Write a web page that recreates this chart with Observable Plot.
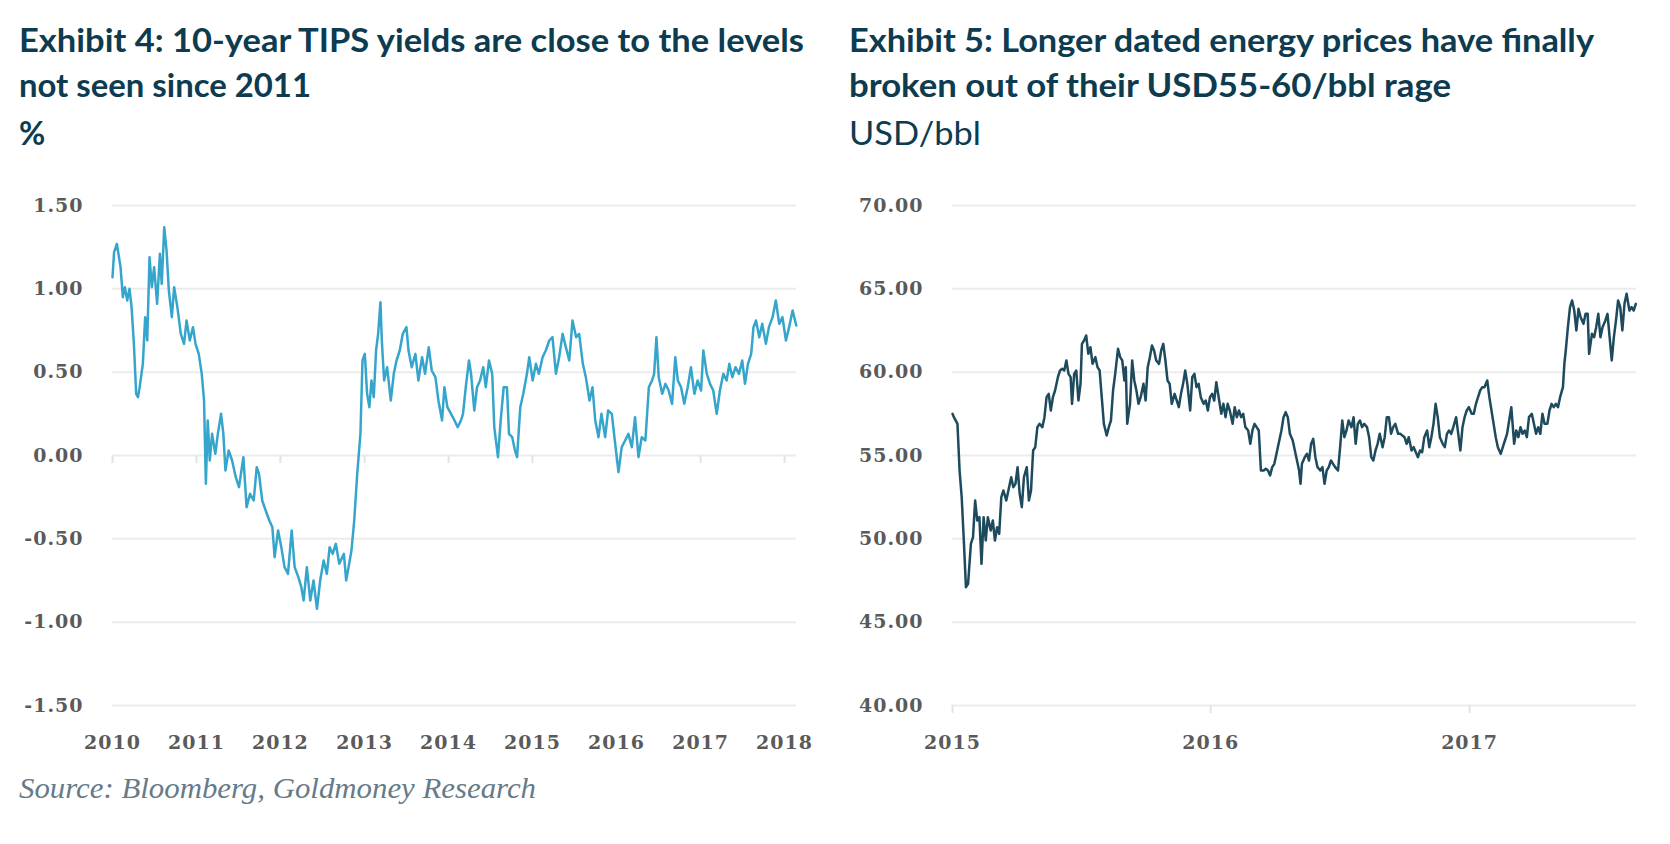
<!DOCTYPE html>
<html>
<head>
<meta charset="utf-8">
<script src="https://cdn.jsdelivr.net/npm/d3@7"></script>
<script src="https://cdn.jsdelivr.net/npm/@observablehq/plot@0.6"></script>
<style>
  html, body { margin: 0; padding: 0; background: #fff; }
  body { width: 1670px; height: 844px; position: relative; overflow: hidden; }
  .t { position: absolute; white-space: nowrap; font-family: Lato, "Open Sans", sans-serif; color: #0d3b4f;
       font-size: 32px; line-height: 32px; transform-origin: 0 0; }
  .b { font-weight: 700; }
  .r { font-weight: 400; }
  .src { position: absolute; white-space: nowrap; font-family: "Liberation Serif", "DejaVu Serif", serif; font-style: italic;
         font-size: 30px; line-height: 30px; color: #667b88; transform-origin: 0 0; }
  .chart { position: absolute; top: 180px; }
  .chart svg text { font-weight: 700; }
</style>
</head>
<body>
<div class="t b" id="l1" style="left:19px; top:24px;">Exhibit 4: 10-year TIPS yields are close to the levels</div>
<div class="t b" id="l2" style="left:19px; top:69px;">not seen since 2011</div>
<div class="t b" id="l3" style="left:19px; top:117px;">%</div>
<div class="t b" id="r1" style="left:849px; top:24px;">Exhibit 5: Longer dated energy prices have finally</div>
<div class="t b" id="r2" style="left:849px; top:69px;">broken out of their USD55-60/bbl rage</div>
<div class="t r" id="r3" style="left:849px; top:117px;">USD/bbl</div>
<div id="left" class="chart" style="left:0px;"></div>
<div id="right" class="chart" style="left:835px;"></div>
<div class="src" id="src" style="left:19px; top:773px;">Source: Bloomberg, Goldmoney Research</div>
<script>
// ---------- Exhibit 4: 10-year TIPS yield (%) ----------
const tipsDates = ["2010-01-01","2010-01-08","2010-01-20","2010-02-05","2010-02-15","2010-02-24","2010-03-06","2010-03-16","2010-03-25","2010-04-04","2010-04-14","2010-04-22","2010-04-29","2010-05-13","2010-05-23","2010-06-01","2010-06-11","2010-06-21","2010-07-01","2010-07-14","2010-07-26","2010-08-03","2010-08-14","2010-08-24","2010-09-03","2010-09-16","2010-09-26","2010-10-10","2010-10-25","2010-11-08","2010-11-19","2010-12-03","2010-12-17","2010-12-28",
"2011-01-11","2011-01-24","2011-02-03","2011-02-11","2011-02-19","2011-02-28","2011-03-10","2011-03-24","2011-04-04","2011-04-18","2011-04-28","2011-05-07","2011-05-21","2011-06-05","2011-06-21","2011-07-05","2011-07-24","2011-08-07","2011-08-22","2011-09-07","2011-09-20","2011-09-30","2011-10-14","2011-10-29","2011-11-14","2011-11-27","2011-12-07","2011-12-22",
"2012-01-05","2012-01-19","2012-02-03","2012-02-19","2012-03-03","2012-03-19","2012-04-01","2012-04-11","2012-04-25","2012-05-10","2012-05-24","2012-06-08","2012-06-22","2012-07-07","2012-07-21","2012-08-02","2012-08-15","2012-08-29","2012-09-13","2012-10-03","2012-10-13","2012-10-26","2012-11-05","2012-11-17","2012-11-30","2012-12-14","2012-12-23",
"2013-01-02","2013-01-12","2013-01-22","2013-01-31","2013-02-10","2013-02-20","2013-03-01","2013-03-11","2013-03-17","2013-03-27","2013-04-09","2013-04-25","2013-05-08","2013-05-20","2013-06-03","2013-06-16","2013-07-02","2013-07-11","2013-07-25","2013-08-10","2013-08-23","2013-09-08","2013-09-21","2013-10-07","2013-10-20","2013-11-05","2013-11-18","2013-12-04","2013-12-14","2013-12-27",
"2014-01-12","2014-01-27","2014-02-10","2014-02-24","2014-03-05","2014-03-17","2014-03-31","2014-04-09","2014-04-23","2014-05-05","2014-05-18","2014-06-01","2014-06-12","2014-06-26","2014-07-10","2014-07-19","2014-08-04","2014-08-17","2014-08-29","2014-09-12","2014-09-21","2014-10-05","2014-10-17","2014-10-26","2014-11-09","2014-11-22","2014-12-08","2014-12-18",
"2015-01-02","2015-01-16","2015-01-29","2015-02-14","2015-02-28","2015-03-15","2015-03-29","2015-04-13","2015-04-27","2015-05-12","2015-05-26","2015-06-10","2015-06-24","2015-07-10","2015-07-23","2015-08-08","2015-08-21","2015-09-06","2015-09-19","2015-10-01","2015-10-15","2015-10-28","2015-11-13","2015-11-26","2015-12-12","2015-12-25",
"2016-01-10","2016-01-24","2016-02-08","2016-02-22","2016-03-08","2016-03-22","2016-04-06","2016-04-20","2016-05-06","2016-05-21","2016-06-04","2016-06-13","2016-06-23","2016-07-03","2016-07-18","2016-08-01","2016-08-15","2016-08-30","2016-09-13","2016-09-24","2016-10-08","2016-10-22","2016-11-06","2016-11-20","2016-12-05","2016-12-19",
"2017-01-03","2017-01-13","2017-01-28","2017-02-11","2017-02-25","2017-03-12","2017-03-26","2017-04-10","2017-04-24","2017-05-06","2017-05-19","2017-06-02","2017-06-17","2017-07-01","2017-07-13","2017-07-26","2017-08-09","2017-08-19","2017-08-30","2017-09-13","2017-09-26","2017-10-12","2017-10-25","2017-11-10","2017-11-24","2017-12-09","2017-12-23",
"2018-01-07","2018-01-21","2018-02-05","2018-02-21"];
const tipsValues = [1.07,1.22,1.27,1.13,0.95,1.01,0.93,1.00,0.89,0.67,0.37,0.35,0.41,0.55,0.83,0.69,1.19,1.01,1.13,0.91,1.21,1.03,1.37,1.23,0.99,0.83,1.01,0.89,0.73,0.67,0.81,0.69,0.77,0.67,
0.61,0.49,0.33,-0.17,0.21,-0.03,0.13,0.01,0.13,0.25,0.13,-0.09,0.03,-0.03,-0.13,-0.19,-0.01,-0.31,-0.23,-0.27,-0.07,-0.11,-0.27,-0.33,-0.39,-0.43,-0.61,-0.45,
-0.55,-0.67,-0.71,-0.45,-0.67,-0.73,-0.79,-0.87,-0.67,-0.87,-0.75,-0.92,-0.75,-0.63,-0.71,-0.55,-0.59,-0.53,-0.65,-0.59,-0.75,-0.65,-0.57,-0.39,-0.11,0.13,0.57,
0.61,0.37,0.29,0.45,0.35,0.63,0.73,0.92,0.69,0.45,0.53,0.33,0.49,0.57,0.63,0.73,0.77,0.63,0.53,0.61,0.45,0.59,0.49,0.65,0.51,0.47,0.33,0.21,0.41,0.29,
0.25,0.21,0.17,0.21,0.25,0.41,0.57,0.49,0.27,0.41,0.45,0.53,0.41,0.57,0.49,0.17,-0.01,0.23,0.41,0.41,0.13,0.11,0.03,-0.01,0.29,0.37,0.49,0.59,
0.45,0.55,0.49,0.59,0.63,0.69,0.71,0.49,0.59,0.73,0.65,0.57,0.81,0.71,0.73,0.55,0.47,0.33,0.41,0.21,0.11,0.25,0.11,0.27,0.25,0.09,
-0.10,0.05,0.09,0.13,0.05,0.23,-0.01,0.11,0.09,0.41,0.45,0.49,0.71,0.47,0.37,0.43,0.39,0.31,0.59,0.45,0.41,0.31,0.41,0.53,0.37,0.45,
0.39,0.63,0.49,0.43,0.39,0.25,0.39,0.49,0.45,0.55,0.47,0.53,0.49,0.57,0.43,0.55,0.61,0.77,0.81,0.71,0.79,0.67,0.77,0.83,0.93,0.79,0.83,
0.69,0.77,0.87,0.78];
const tipsYTicks = [-1.5, -1, -0.5, 0, 0.5, 1, 1.5];
const tipsYearTicks = ["2010-01-01","2011-01-01","2012-01-01","2013-01-01","2014-01-01","2015-01-01","2016-01-01","2017-01-01","2018-01-01"];
const tipsXDomain = ["2010-01-01", "2018-02-22"];

// ---------- Exhibit 5: longer dated energy prices (USD/bbl) ----------
const energyDates = ["2015-01-01","2015-01-03","2015-01-08","2015-01-11","2015-01-14","2015-01-17","2015-01-20","2015-01-23","2015-01-27","2015-01-30","2015-02-02","2015-02-05","2015-02-08","2015-02-11","2015-02-14","2015-02-17","2015-02-20","2015-02-24","2015-02-27","2015-03-02","2015-03-05","2015-03-08","2015-03-11","2015-03-14","2015-03-18","2015-03-21","2015-03-25","2015-03-28","2015-03-31","2015-04-03","2015-04-06","2015-04-09","2015-04-12","2015-04-16","2015-04-19","2015-04-22","2015-04-25","2015-04-28","2015-05-01","2015-05-04","2015-05-08","2015-05-11","2015-05-14","2015-05-17","2015-05-20","2015-05-23","2015-05-26","2015-05-30","2015-06-02","2015-06-05","2015-06-08","2015-06-11","2015-06-14","2015-06-17","2015-06-19","2015-06-22","2015-06-25","2015-06-28","2015-07-01","2015-07-03","2015-07-06","2015-07-09","2015-07-12","2015-07-15","2015-07-18","2015-07-22","2015-07-25","2015-07-28","2015-07-31","2015-08-03","2015-08-07","2015-08-10","2015-08-13","2015-08-16","2015-08-19","2015-08-23","2015-08-26","2015-08-29","2015-09-01","2015-09-03","2015-09-05","2015-09-09","2015-09-12","2015-09-15","2015-09-18","2015-09-21","2015-09-24","2015-09-28","2015-10-01","2015-10-04","2015-10-07","2015-10-10","2015-10-13","2015-10-16","2015-10-20","2015-10-23","2015-10-26","2015-10-29","2015-11-01","2015-11-04","2015-11-07","2015-11-11","2015-11-14","2015-11-17","2015-11-20","2015-11-23","2015-11-26","2015-11-29","2015-12-03","2015-12-06","2015-12-09","2015-12-12","2015-12-15","2015-12-18","2015-12-22","2015-12-25","2015-12-28","2015-12-31",
"2016-01-03","2016-01-06","2016-01-09","2016-01-13","2016-01-16","2016-01-19","2016-01-22","2016-01-25","2016-01-28","2016-02-01","2016-02-04","2016-02-07","2016-02-10","2016-02-13","2016-02-16","2016-02-19","2016-02-23","2016-02-26","2016-02-29","2016-03-03","2016-03-06","2016-03-09","2016-03-12","2016-03-16","2016-03-19","2016-03-22","2016-03-25","2016-03-28","2016-03-31","2016-04-04","2016-04-07","2016-04-10","2016-04-13","2016-04-16","2016-04-19","2016-04-22","2016-04-26","2016-04-29","2016-05-02","2016-05-05","2016-05-07","2016-05-09","2016-05-13","2016-05-16","2016-05-19","2016-05-22","2016-05-25","2016-05-28","2016-05-31","2016-06-04","2016-06-07","2016-06-10","2016-06-13","2016-06-16","2016-06-19","2016-06-22","2016-06-25","2016-06-29","2016-07-02","2016-07-05","2016-07-08","2016-07-11","2016-07-14","2016-07-18","2016-07-21","2016-07-24","2016-07-27","2016-07-30","2016-08-02","2016-08-05","2016-08-09","2016-08-12","2016-08-15","2016-08-18","2016-08-21","2016-08-24","2016-08-27","2016-08-31","2016-09-03","2016-09-06","2016-09-09","2016-09-12","2016-09-15","2016-09-18","2016-09-22","2016-09-25","2016-09-28","2016-10-01","2016-10-04","2016-10-07","2016-10-11","2016-10-14","2016-10-17","2016-10-20","2016-10-23","2016-10-26","2016-10-29","2016-11-02","2016-11-05","2016-11-08","2016-11-11","2016-11-14","2016-11-17","2016-11-20","2016-11-24","2016-11-27","2016-11-30","2016-12-03","2016-12-06","2016-12-09","2016-12-13","2016-12-16","2016-12-19","2016-12-22","2016-12-25","2016-12-28","2016-12-31",
"2017-01-04","2017-01-07","2017-01-10","2017-01-13","2017-01-16","2017-01-19","2017-01-22","2017-01-26","2017-01-29","2017-02-01","2017-02-04","2017-02-07","2017-02-10","2017-02-14","2017-02-17","2017-02-20","2017-02-23","2017-02-26","2017-03-01","2017-03-05","2017-03-08","2017-03-11","2017-03-14","2017-03-17","2017-03-20","2017-03-23","2017-03-26","2017-03-30","2017-04-02","2017-04-05","2017-04-08","2017-04-11","2017-04-14","2017-04-17","2017-04-21","2017-04-24","2017-04-27","2017-04-30","2017-05-03","2017-05-06","2017-05-09","2017-05-13","2017-05-15","2017-05-17","2017-05-20","2017-05-23","2017-05-26","2017-05-29","2017-06-01","2017-06-04","2017-06-07","2017-06-11","2017-06-14","2017-06-17","2017-06-19","2017-06-23","2017-06-26","2017-06-29","2017-07-02","2017-07-05","2017-07-08","2017-07-12","2017-07-15","2017-07-18","2017-07-21","2017-07-24","2017-07-27","2017-07-30","2017-08-02","2017-08-05","2017-08-08","2017-08-11","2017-08-15","2017-08-18","2017-08-21","2017-08-24"];
const energyValues = [57.5,57.3,56.9,54.1,52.5,49.9,47.1,47.3,49.7,50.1,52.3,51.1,51.3,48.5,51.3,49.9,51.3,50.5,51.1,49.9,50.7,50.3,52.5,52.9,52.3,52.9,53.7,53.1,53.3,54.3,52.7,51.9,53.7,54.3,52.3,52.9,55.3,55.5,56.7,56.9,56.7,57.3,58.5,58.7,57.7,58.5,58.9,59.7,60.1,60.2,60.1,60.7,59.9,59.7,58.1,59.9,60.1,58.3,59.3,61.7,61.9,62.2,61.1,61.5,60.5,60.9,60.3,60.1,58.5,56.9,56.2,56.7,57.1,58.9,59.9,61.4,60.9,60.7,59.5,60.3,56.9,58.1,60.7,59.5,58.9,58.1,58.5,59.3,58.3,60.3,60.9,61.6,61.3,60.7,60.5,61.3,61.7,60.7,59.5,59.3,58.1,58.7,58.3,57.9,58.7,59.3,60.1,59.3,57.7,59.7,59.9,59.1,59.3,58.5,58.1,58.3,57.7,58.5,
58.7,58.3,59.4,58.3,57.5,58.1,57.3,58.1,57.7,56.9,57.9,57.3,57.7,57.3,57.5,56.7,56.5,55.7,56.5,56.9,56.7,56.5,54.1,54.1,54.2,54.1,53.8,54.3,54.5,55.3,55.9,56.5,57.3,57.6,57.3,56.3,55.9,55.3,54.7,54.1,53.3,54.5,54.9,55.1,54.7,55.7,56.0,54.9,54.3,54.1,54.3,53.3,54.1,54.3,54.7,54.5,54.3,54.1,55.5,57.1,56.1,56.5,57.1,56.7,57.3,55.7,56.9,57.1,56.7,56.9,56.7,56.1,54.9,54.7,55.3,55.7,56.3,55.5,56.1,57.3,57.3,56.3,56.7,56.9,56.3,56.3,56.2,56.1,55.7,56.1,55.3,55.5,55.2,54.9,55.3,55.2,56.1,56.5,55.5,56.1,56.9,58.1,57.3,56.1,55.7,55.5,56.3,56.5,56.3,56.7,57.3,56.3,55.3,56.7,57.3,57.7,57.9,
57.5,57.5,58.1,58.5,58.9,59.1,59.1,59.5,58.5,57.7,56.9,56.1,55.5,55.1,55.5,55.9,56.3,57.1,57.9,55.7,56.5,56.1,56.7,56.3,56.5,56.1,57.3,57.5,56.9,56.3,56.7,56.3,57.5,56.9,56.9,57.7,58.1,57.9,58.1,57.9,58.5,59.1,60.5,61.3,62.7,63.9,64.3,63.7,62.5,63.8,63.3,62.9,63.5,63.5,61.1,62.3,62.1,62.7,63.5,62.1,62.7,63.1,63.5,62.1,60.7,62.1,63.1,64.3,63.9,62.5,64.1,64.7,63.7,63.9,63.7,64.1];
const energyYTicks = [40, 45, 50, 55, 60, 65, 70];
const energyYearTicks = ["2015-01-01","2016-01-01","2017-01-01"];
const energyXDomain = ["2015-01-01", "2017-08-25"];

// ---------- drawing ----------
const toDate = s => new Date(s + "T00:00:00Z");
const tipsRows = tipsDates.map((d, i) => ({date: toDate(d), value: tipsValues[i]}));
const energyRows = energyDates.map((d, i) => ({date: toDate(d), value: energyValues[i]}));

const gridColor = "#ececec";
const tickColor = "#e3e3e3";
const labelStyle = {fontFamily: "'DejaVu Serif', 'Liberation Serif', serif", fontSize: "19px", color: "#5a5a5a", background: "transparent", letterSpacing: "1px"};

function chart({rows, yTicks, yearTicks, xDomain, yDomain, tickBase, stroke, marginLeft, marginRight}) {
  const years = yearTicks.map(toDate);
  return Plot.plot({
    width: 835, height: 585,
    marginLeft, marginRight, marginTop: 25, marginBottom: 60,
    style: labelStyle,
    x: {type: "utc", domain: xDomain.map(toDate), ticks: years, tickSize: 0, tickPadding: 30,
        tickFormat: d => String(d.getUTCFullYear()), label: null},
    y: {domain: yDomain, ticks: yTicks, tickSize: 0, tickPadding: 29,
        tickFormat: d => d.toFixed(2), label: null},
    marks: [
      Plot.ruleY(yTicks, {stroke: gridColor, strokeWidth: 2}),
      Plot.ruleX(years, {x: d => d, y1: tickBase, y2: tickBase, insetBottom: -8, stroke: tickColor, strokeWidth: 2}),
      Plot.line(rows, {x: "date", y: "value", stroke, strokeWidth: 2.5, strokeLinejoin: "round"})
    ]
  });
}

document.getElementById("left").append(chart({
  rows: tipsRows, yTicks: tipsYTicks, yearTicks: tipsYearTicks, xDomain: tipsXDomain,
  yDomain: [-1.5, 1.5], tickBase: 0, stroke: "#36a5cc", marginLeft: 112, marginRight: 39
}));
document.getElementById("right").append(chart({
  rows: energyRows, yTicks: energyYTicks, yearTicks: energyYearTicks, xDomain: energyXDomain,
  yDomain: [40, 70], tickBase: 40, stroke: "#1d4a5c", marginLeft: 117, marginRight: 34
}));

// horizontal fit of the HTML texts to the reference widths
function fit(id, target) {
  const el = document.getElementById(id);
  const w = el.getBoundingClientRect().width;
  el.style.transform = `scaleX(${target / w})`;
}
fit("l1", 785); fit("l2", 292); fit("r1", 745); fit("r2", 602); fit("r3", 132); fit("src", 517);
</script>
</body>
</html>
